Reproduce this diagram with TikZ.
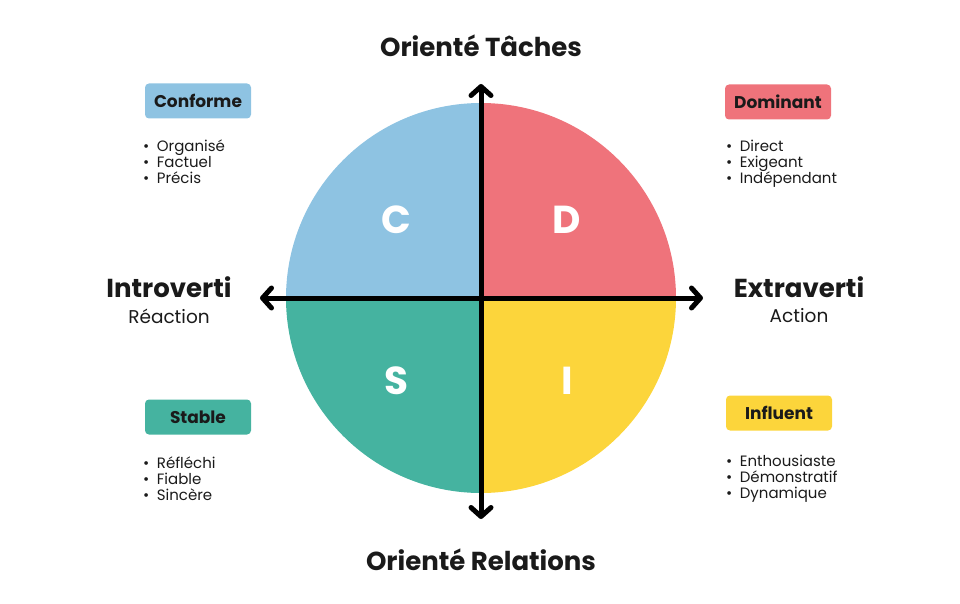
\documentclass[tikz,border=0pt]{standalone}
\usepackage{fontspec}
\setmainfont{Poppins}
\usetikzlibrary{arrows.meta}
\definecolor{cblue}{HTML}{8EC3E2}
\definecolor{cred}{HTML}{EF737B}
\definecolor{cteal}{HTML}{45B3A0}
\definecolor{cyellow}{HTML}{FCD53B}
\definecolor{ctext}{HTML}{1A1A1A}
\tikzset{
  tagbox/.style={rounded corners=4pt, minimum width=106pt, minimum height=35pt, inner sep=0pt, font=\fontsize{17}{20}\selectfont\bfseries, text=ctext},
  blist/.style={anchor=north west, align=left, inner sep=0pt, font=\fontsize{15}{16}\selectfont, text=ctext},
  quad/.style={text=white, font=\fontsize{39}{42}\selectfont\bfseries},
  axis/.style={line width=5pt, line cap=round, {Straight Barb[length=9pt,width=20pt,line width=5pt,round]}-{Straight Barb[length=9pt,width=20pt,line width=5pt,round]}},
  title/.style={font=\fontsize{26}{30}\selectfont\bfseries, text=ctext},
  sub/.style={font=\fontsize{18.5}{22}\selectfont, text=ctext}
}
\newcommand{\bul}{•\hspace{7.5pt}}
\begin{document}
\begin{tikzpicture}[x=1pt,y=-1pt]
\useasboundingbox (0,0) rectangle (960,604);
\coordinate (O) at (481,298);
\begin{scope}
\clip (O) circle[radius=195pt];
\fill[cblue] (O) rectangle (280,90);
\fill[cred] (O) rectangle (690,90);
\fill[cyellow] (O) rectangle (690,510);
\fill[cteal] (O) rectangle (280,510);
\end{scope}
\coordinate (top) at (481,84);
\coordinate (bot) at (481,519);
\coordinate (lft) at (260,298);
\coordinate (rgt) at (703,298);
\draw[axis] (bot) -- (top);
\draw[axis] (lft) -- (rgt);
\node[quad] (C) at (396,220) {C};
\node[quad] (D) at (567,220) {D};
\node[quad] (S) at (396,381) {S};
\node[quad] (I) at (567,381) {I};
\node[title] (tt) at (481,46) {Orienté Tâches};
\node[title] (tb) at (481,560) {Orienté Relations};
\node[title] (tl) at (169,287) {Introverti};
\node[sub] (sl) at (169,316) {Réaction};
\node[title] (tr) at (799,287) {Extraverti};
\node[sub] (sr) at (799,316) {Action};
\node[tagbox, fill=cblue] (bc) at (198,101) {Conforme};
\node[tagbox, fill=cred] (bd) at (778,102) {Dominant};
\node[tagbox, fill=cteal] (bs) at (198,417) {Stable};
\node[tagbox, fill=cyellow] (bi) at (779,413) {Influent};
\node[blist] (lc) at (143,140) {\bul Organisé\\\bul Factuel\\\bul Précis};
\node[blist] (ld) at (726,140) {\bul Direct\\\bul Exigeant\\\bul Indépendant};
\node[blist] (ls) at (143,457) {\bul Réfléchi\\\bul Fiable\\\bul Sincère};
\node[blist] (li) at (726,455) {\bul Enthousiaste\\\bul Démonstratif\\\bul Dynamique};
\end{tikzpicture}
\end{document}
